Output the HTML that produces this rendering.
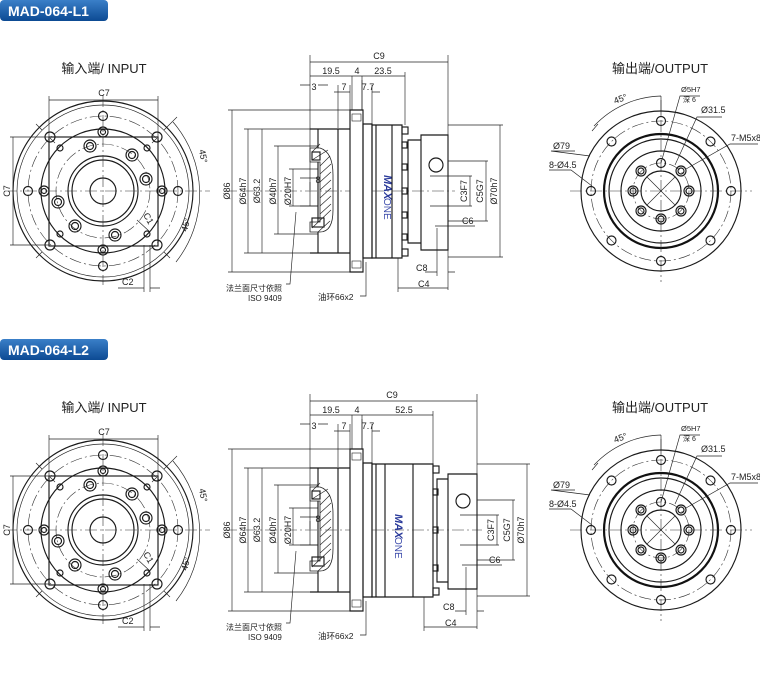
<!DOCTYPE html>
<html><head><meta charset="utf-8"><style>
html,body{margin:0;padding:0;background:#fff;}
svg{display:block;font-family:"Liberation Sans","Noto Sans CJK SC",sans-serif;}
.l{fill:none;stroke:#1a1a1a;stroke-width:1.15}
.t{fill:none;stroke:#222;stroke-width:0.65}
.k{fill:none;stroke:#111;stroke-width:2.2}
.c{fill:none;stroke:#333;stroke-width:0.6;stroke-dasharray:12 3 2 3}
text{fill:#222;font-size:9px}
.h{font-size:13px;fill:#222}
.b{font-size:14px;font-weight:bold;fill:#fff}
</style></head><body>
<svg width="760" height="690" viewBox="0 0 760 690" xmlns="http://www.w3.org/2000/svg">
<defs>
<linearGradient id="bg" x1="0" y1="0" x2="0" y2="1"><stop offset="0" stop-color="#3a7fc8"/><stop offset="1" stop-color="#0c4a93"/></linearGradient>
<g id="inp">
 <circle class="l" cx="103" cy="191" r="90"/>
 <circle class="t" cx="103" cy="191" r="86"/>
 <circle class="c" cx="103" cy="191" r="75"/>
 <circle class="l" cx="103" cy="191" r="62"/>
 <circle class="c" cx="103" cy="191" r="47"/>
 <circle class="l" cx="103" cy="191" r="35"/>
 <circle class="l" cx="103" cy="191" r="31"/>
 <circle class="l" cx="103" cy="191" r="13"/>
 <rect class="l" x="49" y="137" width="109" height="109"/>
 <g class="l">
  <circle cx="50" cy="137" r="5"/><circle cx="157" cy="137" r="5"/><circle cx="50" cy="245" r="5"/><circle cx="157" cy="245" r="5"/>
  <circle cx="103" cy="116" r="4.5"/><circle cx="103" cy="266" r="4.5"/><circle cx="28" cy="191" r="4.5"/><circle cx="178" cy="191" r="4.5"/>
  <circle cx="60" cy="148" r="3"/><circle cx="147" cy="148" r="3"/><circle cx="60" cy="234" r="3"/><circle cx="147" cy="234" r="3"/>
 </g>
 <g class="l">
  <circle cx="103" cy="132" r="5"/><circle cx="103" cy="132" r="2.5"/>
  <circle cx="103" cy="250" r="5"/><circle cx="103" cy="250" r="2.5"/>
  <circle cx="44" cy="191" r="5"/><circle cx="44" cy="191" r="2.5"/>
  <circle cx="162" cy="191" r="5"/><circle cx="162" cy="191" r="2.5"/>
  <circle cx="90" cy="146" r="6"/><circle cx="90" cy="146" r="3.5"/>
  <circle cx="132" cy="155" r="6"/><circle cx="132" cy="155" r="3.5"/>
  <circle cx="146" cy="179" r="6"/><circle cx="146" cy="179" r="3.5"/>
  <circle cx="58" cy="202" r="6"/><circle cx="58" cy="202" r="3.5"/>
  <circle cx="75" cy="226" r="6"/><circle cx="75" cy="226" r="3.5"/>
  <circle cx="115" cy="235" r="6"/><circle cx="115" cy="235" r="3.5"/>
 </g>
 <path class="c" d="M5 191H210M103 95V285"/>
 <path class="t" d="M42 130L36 124M164 130L170 124M42 252L36 258M164 252L170 258M55 143L50 138M152 143L157 138"/>
 <path class="t" d="M170 124L177 117M173 122 A110 110 0 0 1 176 262"/>
 <path class="t" d="M49 137V96M158 137V96M49 100H158M49 137H10M49 245H10M13 137V245"/>
 <path class="t" d="M144 245V292M150 245V292M118 288H144M150 288H160M137 220L150 232"/>
</g>
<g id="outp">
 <circle class="l" cx="661" cy="191" r="80"/>
 <circle class="c" cx="661" cy="191" r="70"/>
 <circle class="k" cx="661" cy="191" r="57"/>
 <circle class="l" cx="661" cy="191" r="52"/>
 <circle class="l" cx="661" cy="191" r="40"/>
 <circle class="c" cx="661" cy="191" r="28"/>
 <circle class="l" cx="661" cy="191" r="20"/>
 <path class="t" d="M647 177L675 205M675 177L647 205"/>
 <path class="c" d="M570 191H752M661 100V282"/>
 <g class="l">
  <circle cx="661" cy="121" r="4.5"/><circle cx="661" cy="261" r="4.5"/><circle cx="591" cy="191" r="4.5"/><circle cx="731" cy="191" r="4.5"/>
  <circle cx="611.5" cy="141.5" r="4.5"/><circle cx="710.5" cy="141.5" r="4.5"/><circle cx="611.5" cy="240.5" r="4.5"/><circle cx="710.5" cy="240.5" r="4.5"/>
  <circle cx="661" cy="163" r="4.5"/>
  <circle cx="661" cy="219" r="5"/><circle cx="661" cy="219" r="3"/>
  <circle cx="633" cy="191" r="5"/><circle cx="633" cy="191" r="3"/>
  <circle cx="689" cy="191" r="5"/><circle cx="689" cy="191" r="3"/>
  <circle cx="641" cy="171" r="5"/><circle cx="641" cy="171" r="3"/>
  <circle cx="681" cy="171" r="5"/><circle cx="681" cy="171" r="3"/>
  <circle cx="641" cy="211" r="5"/><circle cx="641" cy="211" r="3"/>
  <circle cx="681" cy="211" r="5"/><circle cx="681" cy="211" r="3"/>
 </g>
 <path class="t" d="M594 126A95 95 0 0 1 661 96M592 131L598 124M661 96V115"/>
 <path class="t" d="M661 163L680 96H700M675 165L697 117H722M686 169L730 144H758M590 156L551 151H575M592 186L571 170H549"/>
</g>
<g id="adapt">
 <path class="t" d="M232 110V272M228 110H350M228 272H350M248 129V253M244 129H350M244 253H350M262 129V253M278 146V234M274 146H318M274 234H318M293 169V206M289 169H318M289 206H318"/>
 <path class="l" d="M310 129H350M310 253H350M338 129V253M318 129V253M350 110V272H363V110Z"/>
 <path d="M310 148H320Q333 152 333 175V210Q333 232 320 232H310V222H320V162H310Z" fill="#fff" stroke="#222" stroke-width="0.8"/>
 <path class="t" d="M312 152L320 144M312 160L328 150M320 166L330 156M320 174L331 164M320 182L331 172M320 190L331 180M320 198L331 188M320 206L331 196M320 214L331 204M312 228L331 210M318 232L330 221"/>
 <rect class="l" x="312" y="218" width="12" height="9"/><rect class="l" x="312" y="152" width="8" height="8"/>
 <path class="t" d="M300 178H318M300 206H318M310 182V206"/>
 <path class="c" d="M225 191H350"/>
 <path class="l" d="M363 124H372V258H363Z"/>
 <rect x="352" y="114" width="9" height="7" fill="#fff" stroke="#222" stroke-width="0.6"/>
 <rect x="352" y="261" width="9" height="7" fill="#fff" stroke="#222" stroke-width="0.6"/>
 <path class="t" d="M310 55V190M310 85H300M318 85H328M338 85V128M350 85V110M362 80V110M372 85V124M334 92H350M372 92H380M296 212L290 284H286M366 262L366 296H360"/>
</g>
</defs>

<!-- ============ L1 ============ -->
<rect x="0" y="0" width="108" height="21" rx="4" fill="url(#bg)"/>
<text class="b" x="8" y="16">MAD-064-L1</text>
<use href="#inp"/>
<text class="h" x="104" y="73" text-anchor="middle">输入端/ INPUT</text>
<text x="104" y="96" text-anchor="middle">C7</text>
<text x="10" y="191" text-anchor="middle" transform="rotate(-90 10 191)">C7</text>
<text x="143" y="215" transform="rotate(60 143 215)">C1</text>
<text x="122" y="285">C2</text>
<text x="199" y="150" transform="rotate(80 199 150)">45°</text>
<text x="187" y="232" transform="rotate(-75 187 232)">45°</text>

<use href="#adapt"/>
<path class="l" d="M372 125H402V258H372ZM376 125V258M392 125V258M408 140H421V243H408ZM421 135H448V250H421Z"/>
<g class="l"><rect x="402" y="127" width="6" height="7"/><rect x="402" y="142" width="5" height="6"/><rect x="402" y="164" width="5" height="6"/><rect x="402" y="188" width="5" height="6"/><rect x="402" y="212" width="5" height="6"/><rect x="402" y="234" width="5" height="6"/><rect x="402" y="249" width="6" height="7"/></g>
<circle class="l" cx="436" cy="165" r="7"/>
<path class="c" d="M372 191H455"/>
<text x="384" y="175" transform="rotate(90 384 175)" style="font-size:11px;font-weight:bold;fill:#2a3a9a;font-style:italic">MAX</text>
<text x="384" y="198" transform="rotate(90 384 198)" style="font-size:10px;fill:#3a4aaa">ONE</text>
<path class="t" d="M310 62H448M448 55V290M310 76H405M405 72V125M352 76V110M362 76V110M398 258V292M398 288H448M437 228V276M448 272H455M425 272H437"/>
<text x="379" y="59" text-anchor="middle">C9</text>
<text x="331" y="74" text-anchor="middle">19.5</text>
<text x="357" y="74" text-anchor="middle">4</text>
<text x="383" y="74" text-anchor="middle">23.5</text>
<text x="314" y="90" text-anchor="middle">3</text>
<text x="344" y="90" text-anchor="middle">7</text>
<text x="368" y="90" text-anchor="middle">7.7</text>
<text x="230" y="191" text-anchor="middle" transform="rotate(-90 230 191)">Ø86</text>
<text x="246" y="191" text-anchor="middle" transform="rotate(-90 246 191)">Ø64h7</text>
<text x="260" y="191" text-anchor="middle" transform="rotate(-90 260 191)">Ø63.2</text>
<text x="276" y="191" text-anchor="middle" transform="rotate(-90 276 191)">Ø40h7</text>
<text x="291" y="191" text-anchor="middle" transform="rotate(-90 291 191)">Ø20H7</text>
<text x="318" y="183" text-anchor="middle">8</text>
<path class="t" d="M430 176H472M430 206H472M470 176V206M448 161H488M448 221H488M486 161V221M448 125H503M448 257H503M500 125V257M435 226H458M448 226H475"/>
<text x="467" y="191" text-anchor="middle" transform="rotate(-90 467 191)">C3F7</text>
<text x="483" y="191" text-anchor="middle" transform="rotate(-90 483 191)">C5G7</text>
<text x="497" y="191" text-anchor="middle" transform="rotate(-90 497 191)">Ø70h7</text>
<text x="462" y="224">C6</text>
<text x="416" y="271">C8</text>
<text x="418" y="287">C4</text>
<text x="226" y="291" style="font-size:8px">法兰面尺寸依照</text>
<text x="248" y="301" style="font-size:8px">ISO 9409</text>
<text x="318" y="300" style="font-size:8.5px">油环66x2</text>

<use href="#outp"/>
<text class="h" x="660" y="73" text-anchor="middle">输出端/OUTPUT</text>
<text x="615" y="104" transform="rotate(-20 615 104)">45°</text>
<text x="681" y="92" style="font-size:7.5px">Ø5H7</text>
<text x="683" y="102" style="font-size:7px">深 6</text>
<text x="701" y="113">Ø31.5</text>
<text x="731" y="141">7-M5x8</text>
<text x="553" y="149">Ø79</text>
<text x="549" y="168">8-Ø4.5</text>

<!-- ============ L2 ============ -->
<g transform="translate(0,339)">
<rect x="0" y="0" width="108" height="21" rx="4" fill="url(#bg)"/>
<text class="b" x="8" y="16">MAD-064-L2</text>
<use href="#inp"/>
<text class="h" x="104" y="73" text-anchor="middle">输入端/ INPUT</text>
<text x="104" y="96" text-anchor="middle">C7</text>
<text x="10" y="191" text-anchor="middle" transform="rotate(-90 10 191)">C7</text>
<text x="143" y="215" transform="rotate(60 143 215)">C1</text>
<text x="122" y="285">C2</text>
<text x="199" y="150" transform="rotate(80 199 150)">45°</text>
<text x="187" y="232" transform="rotate(-75 187 232)">45°</text>

<use href="#adapt"/>
<path class="l" d="M372 125H433V258H372ZM376 125V258M385 125V258M413 125V258M437 140H448V243H437ZM448 135H477V250H448Z"/>
<g class="l"><rect x="433" y="127" width="6" height="7"/><rect x="433" y="150" width="5" height="6"/><rect x="433" y="188" width="5" height="6"/><rect x="433" y="226" width="5" height="6"/><rect x="433" y="249" width="6" height="7"/></g>
<circle class="l" cx="463" cy="162" r="7"/>
<path class="c" d="M372 191H482"/>
<text x="395" y="175" transform="rotate(90 395 175)" style="font-size:11px;font-weight:bold;fill:#2a3a9a;font-style:italic">MAX</text>
<text x="395" y="198" transform="rotate(90 395 198)" style="font-size:10px;fill:#3a4aaa">ONE</text>
<path class="t" d="M310 62H477M477 55V290M310 76H433M433 72V125M352 76V110M362 76V110M424 258V292M424 288H477M466 228V276M477 272H484M455 272H466"/>
<text x="392" y="59" text-anchor="middle">C9</text>
<text x="331" y="74" text-anchor="middle">19.5</text>
<text x="357" y="74" text-anchor="middle">4</text>
<text x="404" y="74" text-anchor="middle">52.5</text>
<text x="314" y="90" text-anchor="middle">3</text>
<text x="344" y="90" text-anchor="middle">7</text>
<text x="368" y="90" text-anchor="middle">7.7</text>
<text x="230" y="191" text-anchor="middle" transform="rotate(-90 230 191)">Ø86</text>
<text x="246" y="191" text-anchor="middle" transform="rotate(-90 246 191)">Ø64h7</text>
<text x="260" y="191" text-anchor="middle" transform="rotate(-90 260 191)">Ø63.2</text>
<text x="276" y="191" text-anchor="middle" transform="rotate(-90 276 191)">Ø40h7</text>
<text x="291" y="191" text-anchor="middle" transform="rotate(-90 291 191)">Ø20H7</text>
<text x="318" y="183" text-anchor="middle">8</text>
<path class="t" d="M460 176H499M460 206H499M497 176V206M477 161H515M477 221H515M513 161V221M477 125H530M477 257H530M527 125V257M462 226H485M477 226H502"/>
<text x="494" y="191" text-anchor="middle" transform="rotate(-90 494 191)">C3F7</text>
<text x="510" y="191" text-anchor="middle" transform="rotate(-90 510 191)">C5G7</text>
<text x="524" y="191" text-anchor="middle" transform="rotate(-90 524 191)">Ø70h7</text>
<text x="489" y="224">C6</text>
<text x="443" y="271">C8</text>
<text x="445" y="287">C4</text>
<text x="226" y="291" style="font-size:8px">法兰面尺寸依照</text>
<text x="248" y="301" style="font-size:8px">ISO 9409</text>
<text x="318" y="300" style="font-size:8.5px">油环66x2</text>

<use href="#outp"/>
<text class="h" x="660" y="73" text-anchor="middle">输出端/OUTPUT</text>
<text x="615" y="104" transform="rotate(-20 615 104)">45°</text>
<text x="681" y="92" style="font-size:7.5px">Ø5H7</text>
<text x="683" y="102" style="font-size:7px">深 6</text>
<text x="701" y="113">Ø31.5</text>
<text x="731" y="141">7-M5x8</text>
<text x="553" y="149">Ø79</text>
<text x="549" y="168">8-Ø4.5</text>
</g>
</svg>
</body></html>
